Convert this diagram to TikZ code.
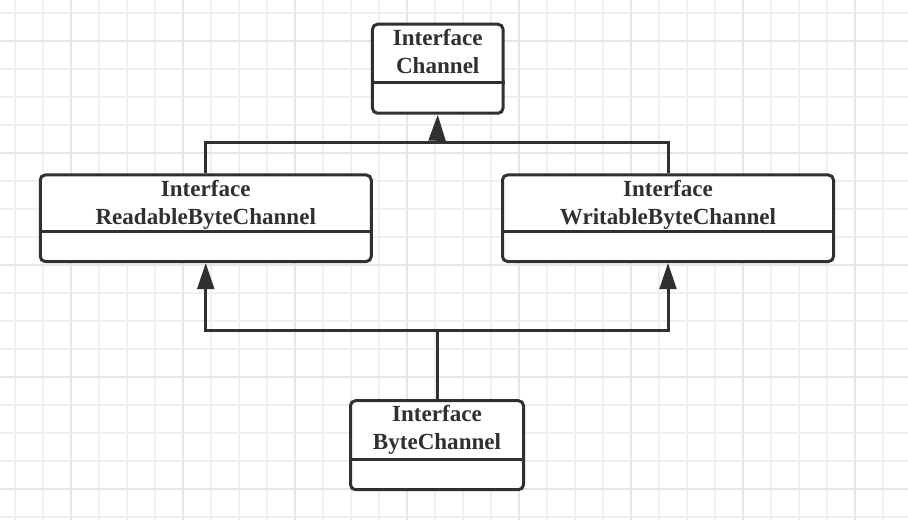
\documentclass[tikz,border=0pt]{standalone}
\usepackage{fontspec}
\setmainfont{Liberation Serif}
\usetikzlibrary{arrows.meta,positioning,calc}

\definecolor{ink}{HTML}{303030}
\definecolor{gridminor}{HTML}{EFEFEF}
\definecolor{gridmajor}{HTML}{E5E5E5}

\tikzset{
  classbox/.style={draw=ink, line width=2.25pt, rounded corners=3.75pt,
    fill=white, inner sep=0pt},
  classname/.style={anchor=base, text width=200pt, align=center, inner sep=0pt,
    text=ink, font=\fontsize{17.3}{21}\selectfont\bfseries},
  divline/.style={draw=ink, line width=2.25pt},
  assoc/.style={draw=ink, line width=2.25pt},
  inherit/.style={assoc, -{Triangle[length=19.5pt,width=12.5pt]}},
}

\begin{document}
\begin{tikzpicture}[x=0.75pt,y=-0.75pt]
      % page and grid paper
      \fill[white] (0,0) rectangle (908,520);
      \useasboundingbox (0,0) rectangle (908,520);
      \foreach \gx in {15,43,...,907}
        \draw[gridminor,line width=1.5pt] (\gx,0) -- (\gx,520);
      \foreach \gy in {13,41,...,519}
        \draw[gridminor,line width=1.5pt] (0,\gy) -- (908,\gy);
      \foreach \gx in {71,183,...,907}
        \draw[gridmajor,line width=1.5pt] (\gx,0) -- (\gx,520);
      \foreach \gy in {41,153,...,519}
        \draw[gridmajor,line width=1.5pt] (0,\gy) -- (908,\gy);

      % the four interfaces
      \node[classbox,minimum width=97.9pt,minimum height=66.75pt] (chan) at (437.75,68.75) {};
      \node[classbox,minimum width=248.25pt,minimum height=64.9pt] (rbc) at (205.75,218.25) {};
      \node[classbox,minimum width=248.25pt,minimum height=64.9pt] (wbc) at (668,218.25) {};
      \node[classbox,minimum width=129.75pt,minimum height=66.75pt] (bc) at (437,445.2) {};

      \node[classname] (chan-t) at ([yshift=-17pt]chan.north) {Interface\\Channel};
      \node[classname] (rbc-t) at ([yshift=-17pt]rbc.north) {Interface\\ReadableByteChannel};
      \node[classname] (wbc-t) at ([yshift=-17pt]wbc.north) {Interface\\WritableByteChannel};
      \node[classname] (bc-t) at ([yshift=-17pt]bc.north) {Interface\\ByteChannel};

      \draw[divline] ([yshift=24pt]chan.south west) -- ([yshift=24pt]chan.south east);
      \draw[divline] ([yshift=24pt]rbc.south west) -- ([yshift=24pt]rbc.south east);
      \draw[divline] ([yshift=24pt]wbc.south west) -- ([yshift=24pt]wbc.south east);
      \draw[divline] ([yshift=24pt]bc.south west) -- ([yshift=24pt]bc.south east);

      % inheritance lines
      \coordinate (bustop) at (437,143);
      \coordinate (busbot) at (437,331);

      \draw[assoc] (rbc.north) |- (bustop) -| (wbc.north);
      \draw[inherit] (bustop) -- (chan.south);
      \draw[assoc] (bc.north) -- (busbot);
      \draw[inherit] (busbot) -| (rbc.south);
      \draw[inherit] (busbot) -| (wbc.south);
    \end{tikzpicture}
\end{document}
